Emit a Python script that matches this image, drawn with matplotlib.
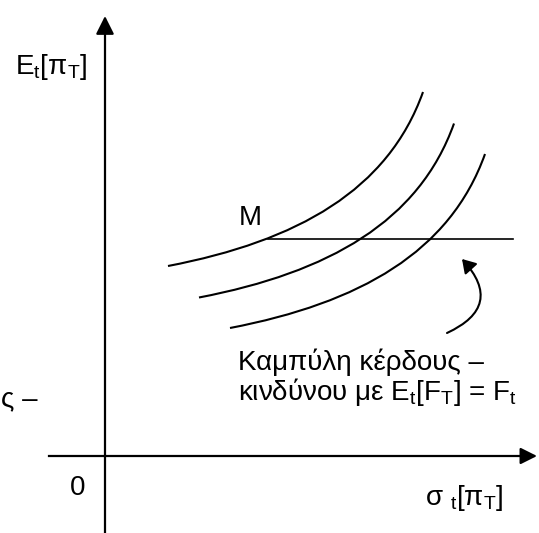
import matplotlib.pyplot as plt
from matplotlib.path import Path
from matplotlib.patches import PathPatch, FancyArrowPatch

plt.rcParams['font.family'] = ['Liberation Sans', 'DejaVu Sans']
plt.rcParams['mathtext.fontset'] = 'custom'
plt.rcParams['mathtext.rm'] = 'Liberation Sans'
plt.rcParams['mathtext.it'] = 'Liberation Sans'
plt.rcParams['mathtext.bf'] = 'Liberation Sans:bold'

# diagram drawn in pixel units (y grows downwards)
W, H = 539, 533

# axes
origin = (105, 456)
y_axis_top = 16
y_axis_bottom = 533
x_axis_left = 49
x_axis_right = 537

# risk-return curve (cubic bezier control points) and the shifted copies
curve_x = [168, 298, 388, 423]
curve_y = [266, 241, 190, 92]
shift_x = [0, 31, 62]
shift_y = [0, 31.5, 62]

# level line through M
m_level = 239
m_start = 268
m_end = 513

# curved pointer
pointer_tail = (447, 333)
pointer_tip = (462, 259)

fig = plt.figure(figsize=(W / 100, H / 100), dpi=100)
ax = fig.add_axes([0, 0, 1, 1])
ax.set_xlim(0, W)
ax.set_ylim(H, 0)
ax.axis('off')

# y axis with arrow
ax.plot([origin[0], origin[0]], [y_axis_bottom, y_axis_top + 14], color='black', lw=1.6)
ax.annotate('', xy=(origin[0], y_axis_top), xytext=(origin[0], y_axis_top + 16),
            arrowprops=dict(arrowstyle='-|>,head_length=1.1,head_width=0.55',
                            color='black', lw=1.6, shrinkA=0, shrinkB=0))
# x axis with arrow
ax.plot([x_axis_left, x_axis_right - 12], [origin[1], origin[1]], color='black', lw=1.6)
ax.annotate('', xy=(x_axis_right, origin[1]), xytext=(x_axis_right - 14, origin[1]),
            arrowprops=dict(arrowstyle='-|>,head_length=1.0,head_width=0.5',
                            color='black', lw=1.6, shrinkA=0, shrinkB=0))

# three curves
codes = [Path.MOVETO, Path.CURVE4, Path.CURVE4, Path.CURVE4]
for dx, dy in zip(shift_x, shift_y):
    verts = [(x + dx, y + dy) for x, y in zip(curve_x, curve_y)]
    ax.add_patch(PathPatch(Path(verts, codes), fill=False, lw=1.5, color='black'))

# horizontal line from M
ax.plot([m_start, m_end], [m_level, m_level], color='black', lw=1.2)

# curved pointer to the line
ax.add_patch(FancyArrowPatch(pointer_tail, pointer_tip,
                             connectionstyle='arc3,rad=0.68',
                             arrowstyle='-|>,head_length=8,head_width=5',
                             color='black', lw=1.5, shrinkA=0, shrinkB=0))

fs = 20
ax.text(15, 74, r'E$_\mathrm{t}$[π$_\mathrm{T}$]', fontsize=fs, ha='left', va='baseline')
ax.text(78, 495, '0', fontsize=fs, ha='center', va='baseline')
ax.text(250, 225, 'M', fontsize=fs, ha='center', va='baseline')
ax.text(425, 505, r'σ $_\mathrm{t}$[π$_\mathrm{T}$]', fontsize=fs, ha='left', va='baseline')
ax.text(238, 370, 'Καμπύλη κέρδους –', fontsize=fs, ha='left', va='baseline')
ax.text(238, 400, r'κινδύνου με E$_\mathrm{t}$[F$_\mathrm{T}$] = F$_\mathrm{t}$',
        fontsize=fs, ha='left', va='baseline')
ax.text(1, 406, 'ς –', fontsize=fs, ha='left', va='baseline')

fig.savefig('out.png', dpi=100)
